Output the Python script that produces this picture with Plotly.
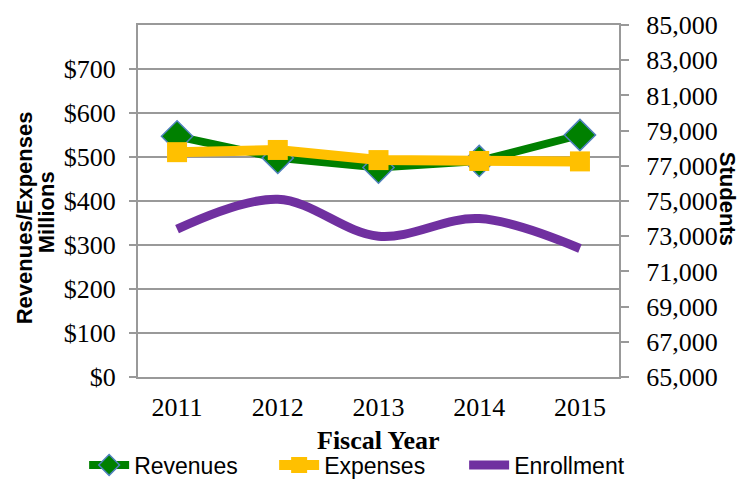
import plotly.graph_objects as go

years = ["2011", "2012", "2013", "2014", "2015"]
revenues = [547, 498, 476, 491, 550]
expenses = [511, 516, 493, 491, 490]
enrollment = [73400, 75100, 73000, 74000, 72300]
left_ticks = [0, 100, 200, 300, 400, 500, 600, 700]
left_labels = ["$0", "$100", "$200", "$300", "$400", "$500", "$600", "$700"]

serif = "Liberation Serif"
sans = "Liberation Sans"
grid = "#999999"

fig = go.Figure()
fig.add_trace(go.Scatter(
    x=years, y=revenues, name="Revenues", mode="lines+markers",
    line=dict(color="#008000", width=8),
    marker=dict(symbol="diamond", size=24, color="#008000",
                line=dict(color="#4F81BD", width=1.5)),
))
fig.add_trace(go.Scatter(
    x=years, y=expenses, name="Expenses", mode="lines+markers",
    line=dict(color="#FFC000", width=10),
    marker=dict(symbol="square", size=20, color="#FFC000"),
))
fig.add_trace(go.Scatter(
    x=years, y=enrollment, name="Enrollment", mode="lines", yaxis="y2",
    line=dict(color="#7030A0", width=9, shape="spline", smoothing=1),
))

fig.update_layout(
    width=751, height=490,
    margin=dict(l=130, r=140, t=17, b=112),
    paper_bgcolor="white", plot_bgcolor="white",
    font=dict(family=serif, size=26, color="black"),
    xaxis=dict(
        type="category", showgrid=False, showline=True, linecolor=grid,
        linewidth=2, mirror=True, ticks="", ticklabelstandoff=6,
        tickfont=dict(family=serif, size=26), automargin=False,
    ),
    yaxis=dict(
        range=[0, 800], tickvals=left_ticks, ticktext=left_labels,
        showgrid=True, gridcolor=grid, gridwidth=2,
        showline=True, linecolor=grid, linewidth=2,
        ticks="outside", ticklen=7, tickcolor=grid, tickwidth=2,
        ticklabelstandoff=8, zeroline=False, automargin=False,
        tickfont=dict(family=serif, size=26),
    ),
    yaxis2=dict(
        range=[65000, 85000], tick0=65000, dtick=2000, tickformat=",",
        overlaying="y", side="right", showgrid=False, zeroline=False,
        showline=True, linecolor=grid, linewidth=2,
        ticks="outside", ticklen=8, tickcolor=grid, tickwidth=2,
        ticklabelstandoff=12, automargin=False,
        tickfont=dict(family=serif, size=26),
    ),
    showlegend=True,
    legend=dict(
        orientation="h", x=-0.112, xanchor="left", y=-0.25, yanchor="middle",
        font=dict(family=sans, size=23), itemwidth=40,
        entrywidth=135, entrywidthmode="pixels",
        bgcolor="rgba(0,0,0,0)",
    ),
    annotations=[
        dict(text="<b>Revenues/Expenses</b>", xref="paper", yref="paper",
             x=-0.195, y=0.4515, textangle=-90, showarrow=False, xshift=-20,
             font=dict(family=sans, size=22), xanchor="center", yanchor="middle"),
        dict(text="<b>Millions</b>", xref="paper", yref="paper",
             x=-0.195, y=0.4515, textangle=-90, showarrow=False, xshift=2, yshift=6,
             font=dict(family=sans, size=22), xanchor="center", yanchor="middle"),
        dict(text="<b>Students</b>", xref="paper", yref="paper",
             x=1.2386, y=0.507, textangle=90, showarrow=False, xshift=-6,
             font=dict(family=sans, size=22), xanchor="center", yanchor="middle"),
        dict(text="<b>Fiscal Year</b>", xref="paper", yref="paper",
             x=0.5, y=-0.18, showarrow=False,
             font=dict(family=serif, size=26), xanchor="center", yanchor="middle"),
    ],
)

fig.write_html("out.html")
